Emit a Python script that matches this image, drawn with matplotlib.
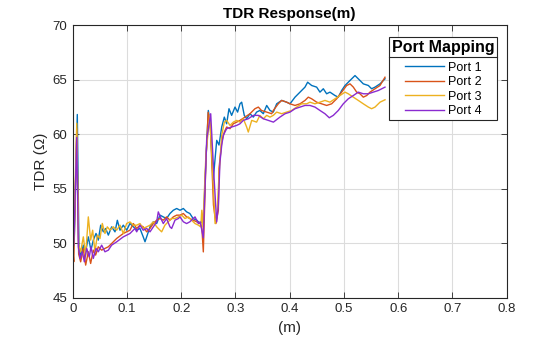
import matplotlib
matplotlib.use("Agg")
import matplotlib.pyplot as plt
from matplotlib.lines import Line2D

plt.rcParams['font.family'] = ['Liberation Sans', 'DejaVu Sans']

port1_x = [0.000, 0.003, 0.0085, 0.0115, 0.0147, 0.0196, 0.0239, 0.0288, 0.0337, 0.038, 0.043, 0.0472,
           0.0516, 0.0565, 0.0608, 0.0657, 0.0718, 0.078, 0.0823, 0.0872, 0.0933, 0.0995, 0.1056, 0.1118,
           0.118, 0.124, 0.130, 0.1333, 0.1364, 0.1425, 0.1487, 0.1548, 0.1609, 0.167, 0.173, 0.1793,
           0.1855, 0.1917, 0.1978, 0.204, 0.210, 0.216, 0.222, 0.2285, 0.235, 0.238, 0.2408, 0.2455,
           0.250, 0.2535, 0.259, 0.2655, 0.2697, 0.2747, 0.2795, 0.2838, 0.2881, 0.293, 0.2992, 0.304,
           0.3084, 0.3115, 0.3163, 0.3207, 0.3268, 0.333, 0.339, 0.345, 0.3514, 0.3576, 0.3637, 0.3698,
           0.376, 0.3852, 0.3944, 0.4006, 0.4098, 0.419, 0.4282, 0.4331, 0.4405, 0.4497, 0.4558, 0.462,
           0.4681, 0.4742, 0.4835, 0.4896, 0.4958, 0.502, 0.5112, 0.5204, 0.5265, 0.5357, 0.545, 0.551,
           0.5573, 0.5665, 0.5757]
port1_y = [50.0, 50.6, 61.8, 49.8, 48.75, 49.82, 49.21, 50.58, 49.36, 50.28, 50.89, 50.28,
           51.65, 51.04, 51.35, 50.74, 51.5, 51.04, 52.1, 51.19, 51.65, 51.19, 51.81, 51.5,
           51.19, 51.35, 50.58, 50.13, 50.58, 51.5, 51.96, 51.8, 52.57, 52.41, 52.26, 52.72,
           53.02, 53.18, 53.02, 53.18, 52.87, 52.72, 52.26, 52.11, 51.8, 51.96, 51.8, 57.5,
           62.17, 61.0, 55.8, 59.43, 59.0, 60.65, 61.56, 60.95, 62.33, 61.72, 62.48, 62.02,
           62.78, 62.93, 61.72, 61.41, 61.87, 61.56, 62.02, 62.17, 61.87, 62.63, 62.17, 62.02,
           62.78, 63.09, 62.93, 62.78, 63.39, 63.85, 64.31, 64.76, 64.46, 64.31, 63.85, 64.16,
           63.7, 63.85, 63.54, 63.39, 64.0, 64.46, 64.92, 65.37, 65.07, 64.61, 64.46, 64.16,
           64.31, 64.61, 65.07]

port2_x = [0.000, 0.002, 0.0075, 0.011, 0.0147, 0.0196, 0.0239, 0.0288, 0.0331, 0.038, 0.0423, 0.0472,
           0.0534, 0.0595, 0.0657, 0.0718, 0.081, 0.0933, 0.1056, 0.1118, 0.118, 0.124, 0.130, 0.1364,
           0.1425, 0.1487, 0.1548, 0.1609, 0.167, 0.173, 0.1793, 0.1855, 0.1917, 0.1978, 0.204, 0.210,
           0.216, 0.222, 0.2285, 0.235, 0.238, 0.2408, 0.2455, 0.2497, 0.254, 0.2595, 0.264, 0.2685,
           0.2697, 0.2747, 0.2795, 0.2838, 0.290, 0.296, 0.3023, 0.3084, 0.3176, 0.3268, 0.336, 0.3422,
           0.348, 0.3576, 0.3668, 0.3698, 0.379, 0.3852, 0.3944, 0.4006, 0.4098, 0.419, 0.4282, 0.4343,
           0.4405, 0.4497, 0.4589, 0.4681, 0.4773, 0.4866, 0.4958, 0.505, 0.5112, 0.5173, 0.5235, 0.5296,
           0.5357, 0.542, 0.548, 0.5573, 0.5665, 0.5757]
port2_y = [49.5, 48.3, 60.5, 49.0, 48.29, 49.52, 47.99, 49.21, 48.14, 49.36, 48.91, 49.67,
           49.36, 49.52, 49.67, 49.97, 50.43, 50.89, 51.19, 51.8, 51.35, 51.65, 51.5, 51.04,
           51.35, 51.8, 52.11, 52.26, 52.11, 52.41, 52.11, 52.41, 52.57, 52.57, 52.72, 52.41,
           52.26, 52.11, 51.96, 51.8, 51.5, 49.2, 57.4, 62.0, 60.5, 53.5, 51.8, 53.0,
           56.84, 59.27, 60.19, 60.65, 60.5, 60.95, 61.10, 61.26, 61.56, 61.87, 62.33, 62.48,
           62.17, 62.02, 61.87, 62.17, 62.78, 63.09, 62.93, 62.78, 62.63, 62.78, 63.09, 63.39,
           63.24, 62.93, 62.78, 62.63, 62.78, 63.24, 63.85, 64.46, 64.61, 64.31, 63.85, 63.70,
           63.39, 63.54, 63.85, 64.16, 64.46, 65.22]

port3_x = [0.000, 0.002, 0.0075, 0.011, 0.0147, 0.0196, 0.0239, 0.0288, 0.0331, 0.0368, 0.0411, 0.0454,
           0.0503, 0.0546, 0.0595, 0.0638, 0.0688, 0.0749, 0.081, 0.0872, 0.0933, 0.0995, 0.1056, 0.1118,
           0.118, 0.124, 0.130, 0.1364, 0.1425, 0.1487, 0.1548, 0.1609, 0.164, 0.170, 0.176, 0.1824,
           0.1886, 0.1948, 0.201, 0.207, 0.213, 0.219, 0.2255, 0.2317, 0.236, 0.238, 0.240, 0.2455,
           0.2525, 0.2575, 0.2625, 0.266, 0.2697, 0.2747, 0.2795, 0.2838, 0.290, 0.296, 0.3023, 0.3084,
           0.3145, 0.3207, 0.3237, 0.330, 0.339, 0.345, 0.3514, 0.3576, 0.3637, 0.3698, 0.376, 0.3852,
           0.3944, 0.4036, 0.4129, 0.422, 0.4313, 0.4374, 0.4466, 0.4558, 0.465, 0.4742, 0.4835, 0.4927,
           0.502, 0.508, 0.5173, 0.5265, 0.5357, 0.545, 0.551, 0.5573, 0.5665, 0.5757]
port3_y = [58.2, 50.0, 61.0, 49.8, 49.21, 50.58, 48.91, 52.41, 50.28, 51.19, 49.21, 50.74,
           50.43, 51.81, 50.89, 51.5, 51.19, 51.5, 51.19, 51.65, 50.89, 51.81, 51.95, 51.65,
           51.65, 51.8, 51.35, 51.5, 51.65, 51.96, 51.5, 51.19, 51.04, 51.65, 51.96, 52.26,
           52.26, 52.41, 52.57, 52.26, 52.41, 52.11, 51.8, 51.65, 51.5, 53.02, 51.5, 58.0,
           61.7, 57.0, 51.8, 52.5, 56.23, 59.89, 61.10, 61.26, 60.80, 61.10, 61.26, 61.10,
           61.41, 60.65, 60.19, 61.26, 61.10, 61.72, 61.41, 61.72, 61.56, 61.72, 62.02, 61.87,
           62.02, 62.17, 62.48, 62.78, 62.78, 62.93, 62.78, 62.93, 63.09, 62.93, 63.24, 63.54,
           63.85, 63.70, 63.39, 63.09, 62.78, 62.48, 62.33, 62.48, 62.93, 63.15]

port4_x = [0.000, 0.002, 0.0075, 0.0104, 0.0135, 0.0178, 0.0215, 0.0258, 0.0306, 0.0337, 0.038, 0.043,
           0.0472, 0.0534, 0.0595, 0.0657, 0.0718, 0.081, 0.0933, 0.1056, 0.1148, 0.118, 0.124, 0.130,
           0.1364, 0.1425, 0.1487, 0.1548, 0.1578, 0.164, 0.167, 0.173, 0.1793, 0.1824, 0.1886, 0.1948,
           0.1978, 0.204, 0.210, 0.216, 0.222, 0.2255, 0.2317, 0.235, 0.238, 0.2408, 0.247, 0.2544,
           0.260, 0.2654, 0.2685, 0.2715, 0.2747, 0.2776, 0.2838, 0.293, 0.3023, 0.3084, 0.3145, 0.3237,
           0.333, 0.3422, 0.3514, 0.3606, 0.370, 0.382, 0.3914, 0.4006, 0.4098, 0.419, 0.4282, 0.4374,
           0.4466, 0.4558, 0.465, 0.473, 0.4804, 0.4896, 0.4988, 0.508, 0.5173, 0.5265, 0.5357, 0.545,
           0.554, 0.5634, 0.5757]
port4_y = [56.7, 49.8, 59.7, 49.67, 48.6, 49.21, 48.29, 49.52, 48.75, 49.67, 48.6, 49.52,
           49.21, 49.82, 49.21, 49.36, 49.82, 50.12, 50.58, 50.89, 51.35, 51.04, 51.65, 51.19,
           51.35, 51.04, 51.5, 51.96, 52.87, 52.11, 51.8, 52.26, 51.5, 51.35, 52.11, 52.26,
           52.41, 51.96, 51.8, 51.96, 52.26, 52.41, 51.8, 51.96, 51.19, 50.5, 59.5, 61.87,
           56.5, 51.95, 53.48, 57.44, 58.97, 59.89, 60.5, 60.65, 60.8, 60.95, 61.26, 61.41,
           61.72, 61.72, 61.41, 61.26, 61.10, 61.56, 61.87, 62.02, 62.33, 62.48, 62.63, 62.63,
           62.48, 62.17, 61.87, 61.50, 61.72, 62.17, 62.78, 63.24, 63.54, 63.85, 63.70, 63.70,
           63.85, 64.0, 64.31]

labels = ['Port 1', 'Port 2', 'Port 3', 'Port 4']
colors = ['#0072BD', '#D95319', '#EDB120', '#8A2BD0']
x_ticks = [0, 0.1, 0.2, 0.3, 0.4, 0.5, 0.6, 0.7, 0.8]
x_ticklabels = ['0', '0.1', '0.2', '0.3', '0.4', '0.5', '0.6', '0.7', '0.8']
y_ticks = [45, 50, 55, 60, 65, 70]

fig = plt.figure(figsize=(5.6, 3.37), dpi=100)
ax = fig.add_axes([0.1298, 0.1166, 0.775, 0.809])

series = [(port1_x, port1_y), (port2_x, port2_y), (port3_x, port3_y), (port4_x, port4_y)]
for (xs, ys), lab, col in zip(series, labels, colors):
    ax.plot(xs, ys, color=col, lw=1.0, label=lab)

ax.set_xlim(0, 0.8)
ax.set_ylim(45, 70)
ax.set_xticks(x_ticks)
ax.set_xticklabels(x_ticklabels)
ax.set_yticks(y_ticks)
ax.grid(True, color='#dcdcdc', lw=0.8)
ax.set_axisbelow(True)
for s in ax.spines.values():
    s.set_color('#262626')
    s.set_linewidth(0.8)
ax.tick_params(direction='in', length=4, width=0.6, colors='#262626', labelsize=9.5,
               top=True, right=True, pad=4)

ax.set_title('TDR Response(m)', fontsize=11, fontweight='bold', color='black', pad=5)
ax.set_xlabel('(m)', fontsize=11, color='#262626', labelpad=4)
ax.set_ylabel('TDR (Ω)', fontsize=11, color='#262626', labelpad=3)

leg = ax.legend(loc='upper right', bbox_to_anchor=(0.9777, 0.956), borderaxespad=0,
                title='Port Mapping', fontsize=9, handlelength=3.1, handletextpad=0.3,
                labelspacing=0.2, borderpad=0.2, fancybox=False, framealpha=1,
                edgecolor='#262626')
leg.get_title().set_fontweight('bold')
leg.get_title().set_fontsize(11.5)
leg.get_frame().set_linewidth(0.8)
leg._legend_box.sep = 5

fig.canvas.draw()
r = fig.canvas.get_renderer()
fb = leg.get_frame().get_window_extent(r)
tb = leg.get_title().get_window_extent(r)
ysep = tb.y0 - 2.0
inv = fig.transFigure.inverted()
(x0, y0) = inv.transform((fb.x0, ysep))
(x1, _) = inv.transform((fb.x1, ysep))
fig.add_artist(Line2D([x0, x1], [y0, y0], color='#262626', lw=0.8, transform=fig.transFigure))

fig.savefig('out.png', dpi=100)
